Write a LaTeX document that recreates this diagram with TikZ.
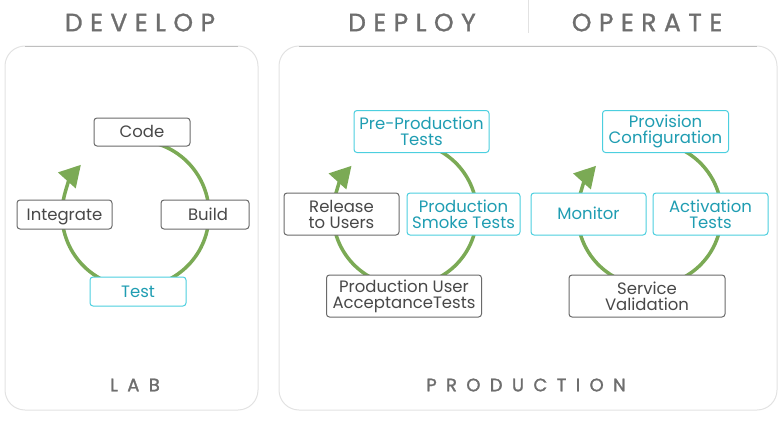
\documentclass[tikz,border=0pt]{standalone}
\usepackage{fontspec}
\setmainfont{Poppins}
\usetikzlibrary{arrows.meta}
\definecolor{cyclegreen}{HTML}{7BAA55}
\definecolor{tealtext}{HTML}{1F9DB2}
\definecolor{tealline}{HTML}{4CCFDF}
\definecolor{boxgray}{HTML}{6A6A6A}
\definecolor{textgray}{HTML}{484848}
\definecolor{headgray}{HTML}{6E6E6E}
\definecolor{panelline}{HTML}{E2E2E2}
\newfontfamily\headfont[LetterSpace=30, FakeBold=1.2]{Poppins}
\newfontfamily\footfont[LetterSpace=52, FakeBold=1.5]{Poppins}

\begin{document}
\begin{tikzpicture}[x=1pt, y=-1pt,
  stagebox/.style={draw=boxgray, line width=1pt, rounded corners=3pt, fill=white,
    text=textgray, align=center, inner sep=0pt, font=\fontsize{16.5}{16}\selectfont},
  testbox/.style={stagebox, draw=tealline, text=tealtext},
  onerow/.style={text height=14pt, text depth=2.5pt},
  cyclearrow/.style={draw=cyclegreen, line width=3.5pt, -{Triangle[length=21pt, width=23pt]}},
  panel/.style={draw=panelline, line width=1pt, rounded corners=20pt},
  heading/.style={text=headgray, inner sep=0pt, font=\headfont\fontsize{25}{25}\selectfont},
  envlabel/.style={text=headgray, inner sep=0pt, font=\footfont\fontsize{18}{18}\selectfont}]
 \useasboundingbox (0,0) rectangle (780,439);

 % panels and headings
 \draw[panel] (5,46) rectangle (258,410);
 \draw[panel] (279,46) rectangle (777,410);
 \draw[gray!50, line width=1pt] (25,46) -- (238,46);
 \draw[gray!50, line width=1pt] (299,46) -- (757,46);
 \coordinate (septop) at (528,0);
 \coordinate (sepbot) at (528,33);
 \draw[panelline, line width=1pt] (septop) -- (sepbot);
 \node[heading] (develop) at (140,22.5) {DEVELOP};
 \node[heading] (deploy) at (412,22.5) {DEPLOY};
 \node[heading] (operate) at (647,22.5) {OPERATE};
 \node[envlabel] (lab) at (135,385) {LAB};
 \node[envlabel] (production) at (526,385) {PRODUCTION};

 % cycle centres
 \coordinate (devc) at (135.5,214);
 \coordinate (depc) at (405,214);
 \coordinate (opc) at (649.5,214);
 \draw[cyclearrow] (devc) ++(-80:73.5) arc (-80:222:73.5);
 \draw[cyclearrow] (depc) ++(-80:72) arc (-80:222:72);
 \draw[cyclearrow] (opc) ++(-80:72) arc (-80:222:72);

 % develop
 \node[stagebox, onerow, minimum width=96pt, minimum height=28pt] (code) at (142,132) {Code};
 \node[stagebox, onerow, minimum width=88pt, minimum height=29pt] (build) at (205,214.5) {\hspace{6pt}Build};
 \node[testbox, onerow, minimum width=96pt, minimum height=29pt] (test) at (138,291.5) {Test};
 \node[stagebox, onerow, minimum width=95pt, minimum height=29pt] (integrate) at (64.5,214.5) {Integrate};

 % deploy
 \node[testbox, minimum width=135pt, minimum height=42pt] (preprod) at (421.5,131.5) {Pre-Production\\Tests};
 \node[testbox, minimum width=113pt, minimum height=42pt] (smoke) at (463.5,214) {Production\\Smoke Tests};
 \node[stagebox, minimum width=155pt, minimum height=42pt] (uat) at (404,296) {Production User\\AcceptanceTests};
 \node[stagebox, minimum width=115pt, minimum height=42pt] (release) at (341.5,214) {Release\\to Users};

 % operate
 \node[testbox, minimum width=126pt, minimum height=42pt] (provision) at (665.5,131.5) {Provision\\Configuration};
 \node[testbox, minimum width=115pt, minimum height=42pt] (activation) at (710.5,214) {Activation\\Tests};
 \node[stagebox, minimum width=156pt, minimum height=42pt] (servval) at (647,296) {Service\\Validation};
 \node[testbox, onerow, minimum width=115pt, minimum height=42pt] (monitor) at (588.5,214) {Monitor};
\end{tikzpicture}
\end{document}
